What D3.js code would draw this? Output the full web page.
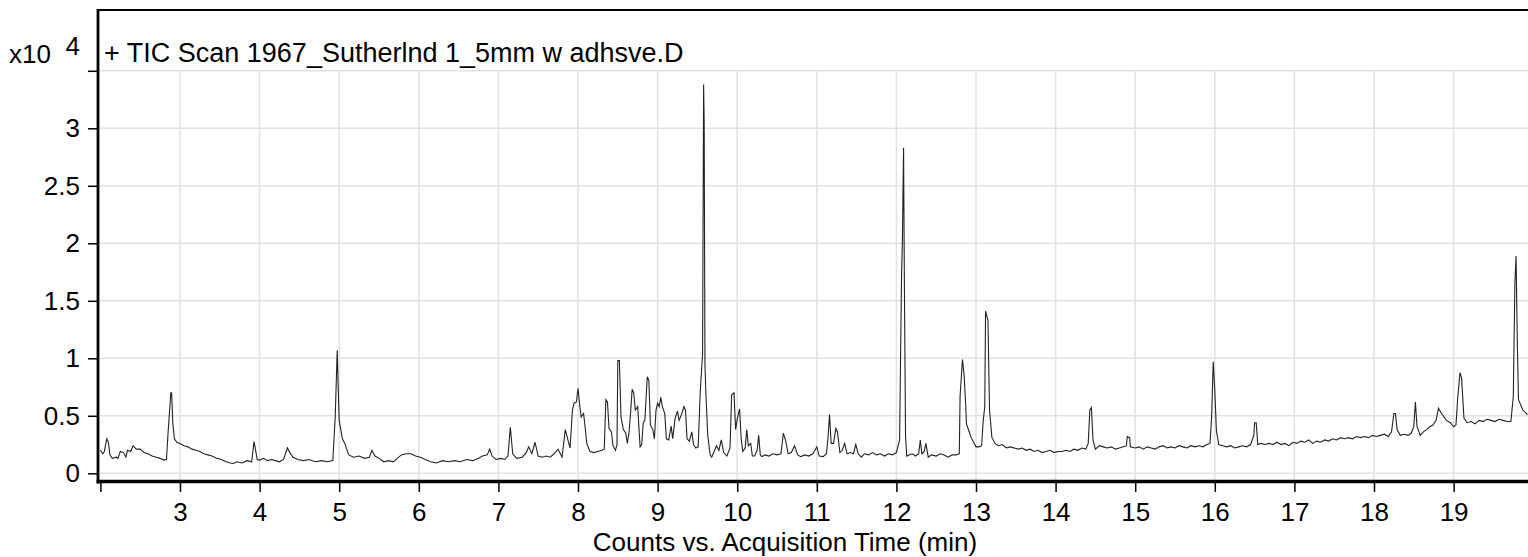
<!DOCTYPE html>
<html>
<head>
<meta charset="utf-8">
<script src="https://cdn.jsdelivr.net/npm/d3@7"></script>
<style>
  html, body { margin: 0; padding: 0; background: #fff; overflow: hidden; }
  svg { display: block; font-family: "Liberation Sans", Arial, sans-serif; }
</style>
</head>
<body>
<div id="app"></div>
<script>
// retention time (min) and TIC counts (x10^4)
const scanTimes = [
  2.00, 2.03, 2.05, 2.08, 2.10, 2.12, 2.15, 2.20, 2.22, 2.25, 2.29, 2.32, 2.34, 2.38, 2.41, 2.45, 2.50, 2.55, 2.60, 2.65,
  2.70, 2.75, 2.80, 2.83, 2.85, 2.885, 2.895, 2.91, 2.93, 2.96,
  3.00, 3.05, 3.10, 3.15, 3.20, 3.25, 3.30, 3.35, 3.40, 3.46, 3.52, 3.58, 3.63, 3.67, 3.72, 3.78, 3.84, 3.90, 3.93, 3.95, 3.97,
  4.00, 4.05, 4.10, 4.15, 4.20, 4.25, 4.30, 4.35, 4.38, 4.42, 4.48, 4.55, 4.62, 4.70, 4.78, 4.85, 4.92, 4.95, 4.975, 4.985,
  5.00, 5.04, 5.07, 5.12, 5.18, 5.25, 5.32, 5.38, 5.41, 5.45, 5.50, 5.56, 5.62, 5.68, 5.73, 5.78, 5.84, 5.90, 5.96,
  6.02, 6.08, 6.15, 6.22, 6.30, 6.37, 6.45, 6.52, 6.60, 6.68, 6.75, 6.80, 6.86, 6.89, 6.92, 6.97,
  7.03, 7.08, 7.12, 7.15, 7.18, 7.23, 7.30, 7.35, 7.38, 7.42, 7.46, 7.50, 7.55, 7.60, 7.65, 7.70, 7.75, 7.80, 7.84, 7.87, 7.90, 7.93, 7.95, 7.98,
  8.00, 8.02, 8.04, 8.07, 8.09, 8.11, 8.15, 8.20, 8.25, 8.30, 8.33, 8.35, 8.37, 8.39, 8.42, 8.44, 8.47, 8.49, 8.50, 8.52,
  8.54, 8.57, 8.60, 8.62, 8.64, 8.66, 8.68, 8.70, 8.72, 8.75, 8.78, 8.80, 8.82, 8.84, 8.87, 8.89, 8.91, 8.94, 8.96, 8.98,
  9.00, 9.02, 9.04, 9.06, 9.09, 9.11, 9.14, 9.17, 9.19, 9.22, 9.25, 9.27, 9.30, 9.33, 9.35, 9.37, 9.40, 9.43, 9.45, 9.48,
  9.51, 9.535, 9.565, 9.578, 9.585, 9.595, 9.605, 9.63, 9.66, 9.68, 9.71, 9.74, 9.77, 9.80, 9.83, 9.87, 9.91, 9.93, 9.96, 9.98,
  10.00, 10.03, 10.05, 10.07, 10.10, 10.12, 10.14, 10.17, 10.19, 10.22, 10.25, 10.27, 10.29, 10.31, 10.35, 10.40, 10.45, 10.50, 10.55, 10.58,
  10.61, 10.64, 10.68, 10.72, 10.76, 10.80, 10.85, 10.90, 10.95,
  11.00, 11.03, 11.08, 11.12, 11.14, 11.16, 11.18, 11.21, 11.24, 11.26, 11.29, 11.32, 11.35, 11.38, 11.42, 11.46, 11.49, 11.52, 11.56, 11.60,
  11.65, 11.70, 11.75, 11.80, 11.85, 11.90, 11.95,
  12.00, 12.04, 12.065, 12.075, 12.09, 12.10, 12.115, 12.13, 12.16, 12.20, 12.24, 12.28, 12.30, 12.32, 12.35, 12.37, 12.40, 12.44, 12.50, 12.55,
  12.60, 12.65, 12.70, 12.75, 12.79, 12.80, 12.83, 12.85, 12.87, 12.88, 12.91, 12.94, 12.97,
  13.00, 13.04, 13.07, 13.09, 13.11, 13.12, 13.15, 13.17, 13.20, 13.24, 13.28, 13.33, 13.38, 13.43, 13.48, 13.53, 13.58, 13.63, 13.68, 13.73,
  13.78, 13.83, 13.88, 13.93, 13.98,
  14.03, 14.08, 14.13, 14.18, 14.23, 14.28, 14.33, 14.38, 14.41, 14.43, 14.45, 14.47, 14.50, 14.55, 14.60, 14.65, 14.70, 14.75, 14.80, 14.85,
  14.89, 14.90, 14.93, 14.94,
  15.00, 15.05, 15.10, 15.15, 15.20, 15.25, 15.30, 15.35, 15.40, 15.45, 15.50, 15.55, 15.60, 15.65, 15.70, 15.75, 15.80, 15.85, 15.90, 15.94,
  15.96, 15.98,
  16.00, 16.02, 16.05, 16.10, 16.15, 16.20, 16.25, 16.30, 16.35, 16.40, 16.45, 16.49, 16.50, 16.52, 16.54, 16.58, 16.63, 16.68, 16.73, 16.78,
  16.83, 16.88, 16.93, 16.98,
  17.03, 17.08, 17.13, 17.18, 17.23, 17.28, 17.33, 17.38, 17.43, 17.48, 17.53, 17.58, 17.63, 17.68, 17.73, 17.78, 17.83, 17.88, 17.93, 17.98,
  18.03, 18.08, 18.13, 18.18, 18.22, 18.25, 18.27, 18.29, 18.33, 18.38, 18.43, 18.47, 18.50, 18.52, 18.54, 18.58, 18.62, 18.66, 18.70, 18.74,
  18.78, 18.81, 18.84, 18.87, 18.91, 18.96,
  19.00, 19.03, 19.05, 19.08, 19.10, 19.13, 19.17, 19.22, 19.27, 19.32, 19.37, 19.42, 19.47, 19.52, 19.57, 19.62, 19.67, 19.72, 19.75, 19.77,
  19.785, 19.80, 19.815, 19.87, 19.93
];
const ticCounts = [
  0.20, 0.17, 0.19, 0.30, 0.27, 0.16, 0.13, 0.14, 0.13, 0.19, 0.18, 0.14, 0.20, 0.19, 0.24, 0.21, 0.21, 0.18, 0.17, 0.15,
  0.14, 0.13, 0.115, 0.12, 0.35, 0.70, 0.70, 0.43, 0.30, 0.27,
  0.26, 0.24, 0.23, 0.21, 0.20, 0.19, 0.17, 0.16, 0.15, 0.13, 0.12, 0.10, 0.09, 0.085, 0.10, 0.09, 0.11, 0.10, 0.275, 0.20, 0.12,
  0.115, 0.13, 0.11, 0.12, 0.11, 0.10, 0.12, 0.22, 0.18, 0.14, 0.12, 0.11, 0.12, 0.10, 0.11, 0.10, 0.11, 0.49, 1.07, 0.81,
  0.46, 0.30, 0.26, 0.16, 0.14, 0.15, 0.13, 0.14, 0.20, 0.15, 0.13, 0.10, 0.11, 0.10, 0.13, 0.16, 0.17, 0.17, 0.15,
  0.14, 0.12, 0.10, 0.09, 0.11, 0.10, 0.11, 0.10, 0.12, 0.11, 0.13, 0.15, 0.16, 0.21, 0.15, 0.12,
  0.13, 0.12, 0.15, 0.40, 0.17, 0.13, 0.14, 0.18, 0.23, 0.17, 0.27, 0.15, 0.14, 0.15, 0.14, 0.17, 0.21, 0.14, 0.38, 0.30, 0.22, 0.55, 0.61, 0.62,
  0.74, 0.60, 0.49, 0.52, 0.40, 0.26, 0.19, 0.18, 0.19, 0.20, 0.21, 0.64, 0.62, 0.39, 0.36, 0.24, 0.20, 0.25, 0.98, 0.98,
  0.49, 0.38, 0.35, 0.26, 0.35, 0.52, 0.73, 0.70, 0.55, 0.58, 0.23, 0.25, 0.44, 0.46, 0.84, 0.81, 0.42, 0.38, 0.30, 0.55,
  0.61, 0.58, 0.66, 0.58, 0.52, 0.30, 0.29, 0.41, 0.30, 0.48, 0.54, 0.46, 0.51, 0.58, 0.55, 0.30, 0.28, 0.36, 0.25, 0.22,
  0.23, 0.70, 1.04, 3.38, 3.05, 0.95, 0.72, 0.33, 0.16, 0.14, 0.19, 0.24, 0.20, 0.29, 0.18, 0.15, 0.22, 0.68, 0.70, 0.38,
  0.47, 0.56, 0.30, 0.19, 0.22, 0.38, 0.24, 0.26, 0.15, 0.15, 0.20, 0.33, 0.16, 0.145, 0.16, 0.15, 0.17, 0.16, 0.17, 0.35,
  0.28, 0.17, 0.18, 0.24, 0.16, 0.145, 0.16, 0.15, 0.17,
  0.23, 0.15, 0.145, 0.17, 0.30, 0.51, 0.26, 0.26, 0.39, 0.36, 0.18, 0.20, 0.26, 0.17, 0.18, 0.17, 0.25, 0.17, 0.14, 0.17,
  0.16, 0.18, 0.16, 0.17, 0.15, 0.17, 0.16,
  0.18, 0.29, 1.74, 2.00, 2.83, 1.68, 0.32, 0.15, 0.16, 0.17, 0.15, 0.17, 0.29, 0.17, 0.19, 0.26, 0.14, 0.16, 0.15, 0.17,
  0.16, 0.14, 0.16, 0.16, 0.17, 0.67, 0.99, 0.86, 0.60, 0.43, 0.37, 0.31, 0.27,
  0.23, 0.23, 0.24, 0.45, 0.58, 1.41, 1.33, 0.55, 0.31, 0.26, 0.24, 0.25, 0.22, 0.23, 0.22, 0.21, 0.22, 0.20, 0.21, 0.19,
  0.20, 0.18, 0.19, 0.20, 0.18,
  0.19, 0.19, 0.20, 0.19, 0.21, 0.20, 0.22, 0.21, 0.26, 0.55, 0.57, 0.29, 0.21, 0.24, 0.23, 0.22, 0.23, 0.21, 0.22, 0.23,
  0.24, 0.32, 0.31, 0.23,
  0.22, 0.23, 0.21, 0.23, 0.22, 0.21, 0.23, 0.24, 0.22, 0.23, 0.22, 0.24, 0.23, 0.22, 0.24, 0.23, 0.24, 0.23, 0.25, 0.26,
  0.49, 0.97,
  0.72, 0.37, 0.25, 0.24, 0.23, 0.24, 0.22, 0.23, 0.24, 0.23, 0.25, 0.33, 0.44, 0.44, 0.25, 0.26, 0.25, 0.26, 0.25, 0.27,
  0.25, 0.26, 0.24, 0.27,
  0.26, 0.28, 0.27, 0.29, 0.26, 0.28, 0.27, 0.29, 0.28, 0.30, 0.29, 0.31, 0.30, 0.31, 0.30, 0.32, 0.31, 0.32, 0.31, 0.33,
  0.32, 0.33, 0.34, 0.32, 0.36, 0.52, 0.52, 0.38, 0.33, 0.34, 0.33, 0.35, 0.41, 0.62, 0.41, 0.33, 0.36, 0.38, 0.405, 0.42,
  0.46, 0.565, 0.53, 0.50, 0.46, 0.44,
  0.405, 0.42, 0.64, 0.875, 0.83, 0.48, 0.44, 0.45, 0.43, 0.46, 0.45, 0.47, 0.46, 0.45, 0.47, 0.46, 0.45, 0.45, 0.67, 1.65,
  1.89, 1.16, 0.64, 0.55, 0.51
];

const yTicks = [0, 0.5, 1, 1.5, 2, 2.5, 3, 3.5];
const xTicks = [2, 3, 4, 5, 6, 7, 8, 9, 10, 11, 12, 13, 14, 15, 16, 17, 18, 19];
const titleText = "+ TIC Scan 1967_Sutherlnd 1_5mm w adhsve.D";
const xLabel = "Counts vs. Acquisition Time (min)";

const w = 1528;
const h = 557;
const frameLeft = 98;
const frameTop = 10;
const frameBottom = 481.5;

const svg = d3.select("#app")
    .append("svg")
    .attr("width", w)
    .attr("height", h);

const x = d3.scaleLinear()
    .domain([2, 20])
    .range([100.4, 100.4 + 18 * 79.6]);

const y = d3.scaleLinear()
    .domain([0, 3.5])
    .range([473.3, 70.8]);

// grid
const grid = svg.append("g").attr("stroke", "#e2e2e2").attr("stroke-width", 1.5);
grid.selectAll(".hg")
    .data(yTicks)
    .enter()
    .append("line")
    .attr("x1", 100)
    .attr("x2", w)
    .attr("y1", d => y(d))
    .attr("y2", d => y(d));
grid.selectAll(".vg")
    .data(xTicks.slice(1))
    .enter()
    .append("line")
    .attr("x1", d => x(d))
    .attr("x2", d => x(d))
    .attr("y1", y(3.5))
    .attr("y2", frameBottom);

// trace
const line = d3.line()
    .x(d => x(d[0]))
    .y(d => y(d[1]));

svg.append("path")
    .datum(scanTimes.map((t, i) => [t, ticCounts[i]]))
    .attr("fill", "none")
    .attr("stroke", "#222")
    .attr("stroke-width", 1.1)
    .attr("d", line);

// axes
const yAxis = d3.axisLeft(y)
    .tickValues(yTicks)
    .tickSize(10)
    .tickPadding(8)
    .tickFormat(d => d === 3.5 ? "" : d3.format("")(d));

const xAxis = d3.axisBottom(x)
    .tickValues(xTicks)
    .tickSize(9)
    .tickPadding(10.5)
    .tickFormat(d => d === 2 ? "" : d);

const gy = svg.append("g")
    .attr("transform", `translate(${frameLeft},0)`)
    .call(yAxis);
const gx = svg.append("g")
    .attr("transform", `translate(0,${frameBottom + 1.5})`)
    .call(xAxis);

[gy, gx].forEach(g => {
    g.select(".domain").remove();
    g.selectAll("line").attr("stroke", "#000").attr("stroke-width", 1.5);
    g.selectAll("text")
        .attr("fill", "#000")
        .style("font-size", "26px")
        .style("font-family", "'Liberation Sans', Arial, sans-serif");
});

// frame
svg.append("line")
    .attr("x1", frameLeft).attr("x2", w)
    .attr("y1", frameTop).attr("y2", frameTop)
    .attr("stroke", "#000").attr("stroke-width", 2);
svg.append("line")
    .attr("x1", frameLeft).attr("x2", frameLeft)
    .attr("y1", frameTop - 1).attr("y2", frameBottom + 2)
    .attr("stroke", "#000").attr("stroke-width", 2.8);
svg.append("line")
    .attr("x1", frameLeft - 1.4).attr("x2", w)
    .attr("y1", frameBottom).attr("y2", frameBottom)
    .attr("stroke", "#000").attr("stroke-width", 3.6);

// texts
svg.append("text")
    .attr("x", 104)
    .attr("y", 62)
    .style("font-size", "27px")
    .text(titleText);

svg.append("text")
    .attr("x", 9)
    .attr("y", 63)
    .style("font-size", "26px")
    .text("x10");

svg.append("text")
    .attr("x", 80)
    .attr("y", 55)
    .attr("text-anchor", "end")
    .style("font-size", "26px")
    .text("4");

svg.append("text")
    .attr("x", 785)
    .attr("y", 551)
    .attr("text-anchor", "middle")
    .style("font-size", "26px")
    .text(xLabel);
</script>
</body>
</html>
